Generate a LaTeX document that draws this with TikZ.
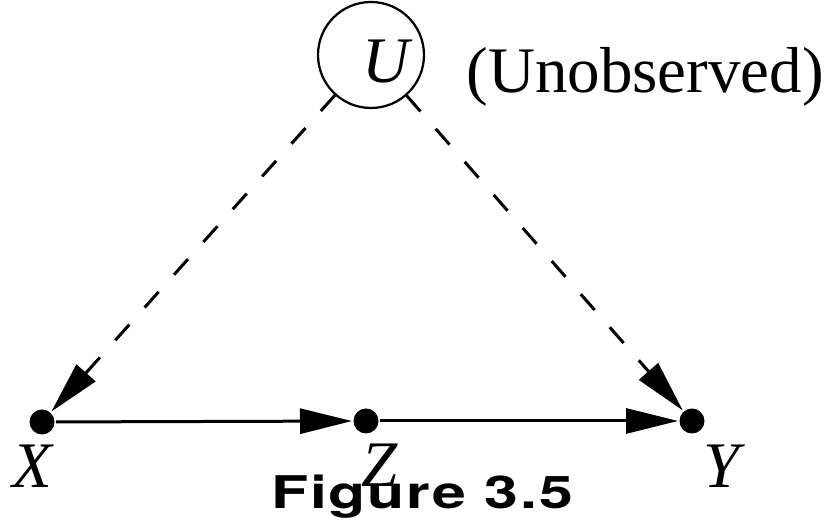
\documentclass[tikz,border=0pt]{standalone}
\usepackage{fontspec}
\setmainfont{Liberation Serif}
\newfontfamily\capfont[LetterSpace=3]{TeX Gyre Heros}
\usetikzlibrary{arrows.meta}

\begin{document}
\begin{tikzpicture}[x=0.4pt, y=-0.4pt, line width=1.2pt,
    vertex/.style={circle, fill, inner sep=0pt, minimum size=10pt},
    varname/.style={anchor=base, inner sep=0pt, font=\fontsize{26}{30}\selectfont\itshape},
    tip/.style={-{Triangle[length=20.8pt, width=10pt]}},
    latent/.style={dash pattern=on 8.4pt off 9.2pt}]
    \useasboundingbox (0,0) rectangle (828,531);
    \node[circle, draw, line width=0.9pt, minimum size=42.4pt, inner sep=0pt] (U) at (371,55) {};
    \node[varname] (Ulab) at (386,83) {U};
    \node[anchor=base west, inner sep=0pt, font=\fontsize{26}{30}\selectfont] (unobs) at (465,93) {(Unobserved)};
    \node[vertex] (X) at (42,422) {};
    \node[vertex] (Z) at (366,421) {};
    \node[vertex] (Y) at (692,421) {};
    \node[varname] (Xlab) at (32,488) {X};
    \node[varname] (Zlab) at (380,487) {Z};
    \node[varname] (Ylab) at (722,488) {Y};
    \draw[tip] (X) -- (Z);
    \draw[tip] (Z) -- (Y);
    \draw[tip, latent] (U) -- (X);
    \draw[tip, latent] (U) -- (Y);
    \node[anchor=base, inner sep=0pt, font=\fontsize{18}{21}\capfont\bfseries] (cap) at (422,509) {\scalebox{1.35}[1]{Figure 3.5}};
\end{tikzpicture}
\end{document}
